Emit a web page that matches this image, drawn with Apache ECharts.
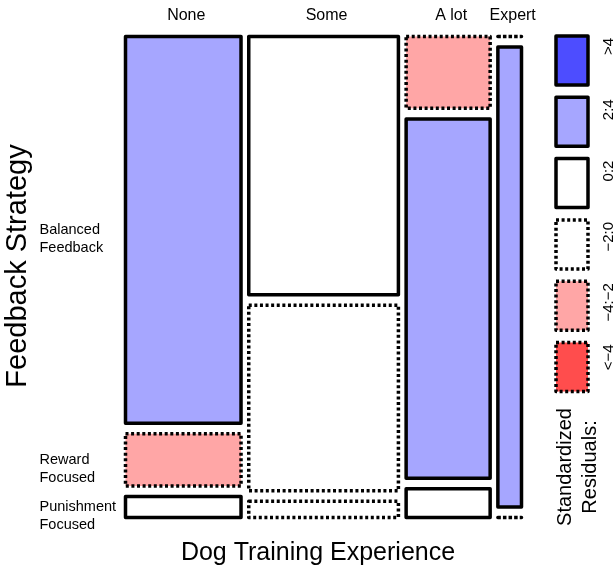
<!DOCTYPE html>
<html>
<head>
<meta charset="utf-8">
<script src="https://cdn.jsdelivr.net/npm/echarts@6/dist/echarts.min.js"></script>
<style>
  html, body { margin: 0; padding: 0; background: #fff; }
  #chart { width: 614px; height: 575px; }
</style>
</head>
<body>
<div id="chart"></div>
<script>
// Contingency table: feedback strategy (rows) by dog training experience (columns)
const experience = ['None', 'Some', 'A lot', 'Expert'];
const strategies = ['Balanced\nFeedback', 'Reward\nFocused', 'Punishment\nFocused'];
const balanced   = [37, 32, 5, 0];
const reward     = [5, 23, 25, 9];
const punishment = [2, 2, 2, 0];
const residualBreaks = ['>4', '2:4', '0:2', '\u22122:0', '\u22124:\u22122', '<\u22124'];

const FONT = '"Liberation Sans", Arial, Helvetica, sans-serif';
const COL_GAP = 0.0195;   // gap between columns, as a share of the mosaic width
const ROW_GAP = 0.022;    // gap between tiles in a column, as a share of the height
const LINE_W = 3.5;
const DASH = [3, 2.6];

const counts = [balanced, reward, punishment];
const colTotals = experience.map((_, j) => counts.reduce((s, row) => s + row[j], 0));
const rowTotals = counts.map(row => row.reduce((a, b) => a + b, 0));
const N = colTotals.reduce((a, b) => a + b, 0);

// Shading of a tile from its Pearson residual
const SHADES = [
  { fill: '#4D4DFF', dashed: false },  // > 4
  { fill: '#A6A6FF', dashed: false },  // 2:4
  { fill: '#FFFFFF', dashed: false },  // 0:2
  { fill: '#FFFFFF', dashed: true },   // -2:0
  { fill: '#FFA6A6', dashed: true },   // -4:-2
  { fill: '#FF4D4D', dashed: true }    // < -4
];
function shadeIndex(r) {
  if (r > 4) return 0;
  if (r > 2) return 1;
  if (r >= 0) return 2;
  if (r >= -2) return 3;
  if (r >= -4) return 4;
  return 5;
}

// Tile rectangles in unit coordinates: [x0, x1, y0, y1, residual, row, col]
const tiles = [];
const colCenters = [];
const usableW = 1 - COL_GAP * (experience.length - 1);
const usableH = 1 - ROW_GAP * (strategies.length - 1);
let x = 0;
experience.forEach((_, j) => {
  const w = colTotals[j] / N * usableW;
  colCenters.push([x + w / 2]);
  let y = 0;
  strategies.forEach((_, i) => {
    const h = counts[i][j] / colTotals[j] * usableH;
    const expected = rowTotals[i] * colTotals[j] / N;
    const resid = (counts[i][j] - expected) / Math.sqrt(expected);
    tiles.push([x, x + w, y, y + h, resid, i, j]);
    y += h + ROW_GAP;
  });
  x += w + COL_GAP;
});
const rowCenters = tiles.filter(t => t[6] === 0).map(t => [t[0], (t[2] + t[3]) / 2]);

const chart = echarts.init(document.getElementById('chart'), null, { renderer: 'canvas' });

const legendTop = 36, legendStep = 61.3, legendH = 49;
const legendGraphics = [];
SHADES.forEach((s, i) => {
  const top = legendTop + i * legendStep;
  legendGraphics.push({
    type: 'rect',
    shape: { x: 556, y: top, width: 32, height: legendH },
    style: { fill: s.fill, stroke: '#000', lineWidth: LINE_W, lineDash: s.dashed ? DASH : null, lineJoin: 'round' }
  });
  legendGraphics.push({
    type: 'text',
    x: 609, y: top + 2, rotation: Math.PI / 2,
    style: { text: residualBreaks[i], font: '15px ' + FONT, fill: '#000', align: 'right', verticalAlign: 'middle' }
  });
});

chart.setOption({
  animation: false,
  backgroundColor: '#fff',
  grid: { left: 125.5, top: 36.5, width: 396, height: 481 },
  xAxis: { type: 'value', min: 0, max: 1, show: false },
  yAxis: { type: 'value', min: 0, max: 1, inverse: true, show: false },
  graphic: [
    {
      type: 'text', x: 318, y: 553,
      style: { text: 'Dog Training Experience', font: '25px ' + FONT, fill: '#000', align: 'center', verticalAlign: 'middle' }
    },
    {
      type: 'text', x: 18, y: 266, rotation: Math.PI / 2,
      style: { text: 'Feedback Strategy', font: '29px ' + FONT, fill: '#000', align: 'center', verticalAlign: 'middle' }
    },
    {
      type: 'text', x: 578, y: 467, rotation: Math.PI / 2,
      style: { text: 'Standardized\nResiduals:', font: '20px ' + FONT, lineHeight: 25, fill: '#000', align: 'center', verticalAlign: 'middle' }
    }
  ].concat(legendGraphics),
  series: [
    {
      type: 'custom',
      silent: true,
      clip: false,
      data: tiles,
      encode: { x: [0, 1], y: [2, 3] },
      renderItem: function (params, api) {
        const p0 = api.coord([api.value(0), api.value(2)]);
        const p1 = api.coord([api.value(1), api.value(3)]);
        const s = SHADES[shadeIndex(api.value(4))];
        return {
          type: 'rect',
          shape: { x: p0[0], y: Math.min(p0[1], p1[1]), width: p1[0] - p0[0], height: Math.abs(p1[1] - p0[1]) },
          style: { fill: s.fill, stroke: '#000', lineWidth: LINE_W, lineDash: s.dashed ? DASH : null, lineJoin: 'round' }
        };
      }
    },
    {
      type: 'custom',
      silent: true,
      clip: false,
      data: colCenters,
      encode: { x: 0 },
      renderItem: function (params, api) {
        const p = api.coord([api.value(0), 0]);
        return {
          type: 'text', x: p[0] + 3, y: p[1] - 21,
          style: { text: experience[params.dataIndex], font: '16px ' + FONT, fill: '#000', align: 'center', verticalAlign: 'middle' }
        };
      }
    },
    {
      type: 'custom',
      silent: true,
      clip: false,
      data: rowCenters,
      encode: { x: 0, y: 1 },
      renderItem: function (params, api) {
        const p = api.coord([api.value(0), api.value(1)]);
        return {
          type: 'text', x: p[0] - 86, y: p[1] + 9,
          style: { text: strategies[params.dataIndex], font: '14.5px ' + FONT, lineHeight: 18, fill: '#000', align: 'left', verticalAlign: 'middle' }
        };
      }
    }
  ]
});
</script>
</body>
</html>
